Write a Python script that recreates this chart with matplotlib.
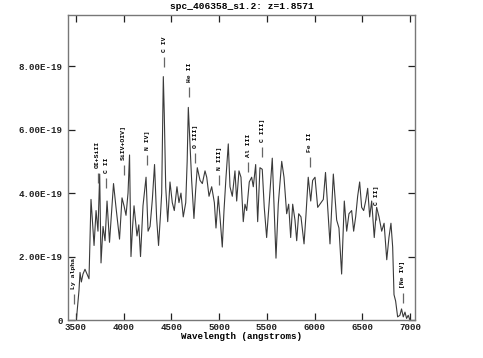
import matplotlib
matplotlib.use("Agg")
import matplotlib.pyplot as plt
from matplotlib.ticker import FuncFormatter

# ---- data ----
title = "spc_406358_s1.2: z=1.8571"
redshift = 1.8571
wavelength = [3505, 3531, 3542, 3556, 3573, 3594, 3615, 3636, 3657, 3689, 3710, 3730, 3748, 3762,
              3783, 3804, 3825, 3851, 3870, 3893, 3919, 3956, 3982, 4003, 4024, 4045, 4061, 4076,
              4092, 4108, 4139, 4158, 4176, 4202, 4234, 4255, 4276, 4300, 4323, 4345, 4365, 4385,
              4398, 4415, 4425, 4440, 4461, 4485, 4509, 4530, 4558, 4579, 4600, 4624, 4650, 4665,
              4677, 4688, 4712, 4736, 4754, 4771, 4800, 4824, 4852, 4870, 4894, 4922, 4950, 4967,
              4991, 5009, 5033, 5051, 5072, 5096, 5114, 5138, 5166, 5184, 5208, 5229, 5253, 5271,
              5289, 5316, 5341, 5358, 5383, 5404, 5428, 5452, 5473, 5498, 5526, 5557, 5578, 5596,
              5620, 5656, 5680, 5708, 5729, 5750, 5771, 5795, 5813, 5834, 5858, 5890, 5910, 5934,
              5960, 5980, 6005, 6033, 6057, 6092, 6115, 6138, 6162, 6197, 6232, 6256, 6284, 6312,
              6337, 6361, 6389, 6410, 6431, 6452, 6473, 6494, 6515, 6536, 6557, 6578, 6599, 6626,
              6651, 6676, 6704, 6729, 6757, 6780, 6801, 6819, 6833, 6850, 6871, 6895, 6912, 6930,
              6948, 6965, 6982, 7000]
flux_e19 = [0.05, 0.93, 1.5, 1.2, 1.45, 1.6, 1.45, 1.3, 3.8, 2.35, 3.45, 2.8, 4.6, 1.8,
            2.95, 2.5, 3.75, 2.45, 3.3, 4.3, 3.55, 2.55, 3.85, 3.6, 3.3, 4.0, 5.2, 2.0,
            2.9, 3.6, 2.65, 3.0, 2.0, 3.6, 4.5, 2.8, 2.95, 3.8, 4.9, 3.2, 2.35, 3.3,
            4.0, 7.67, 6.5, 4.2, 3.1, 4.35, 3.7, 3.45, 4.2, 3.7, 4.0, 3.25, 3.7, 5.0,
            6.7, 6.0, 4.4, 3.2, 4.1, 4.8, 4.4, 4.3, 4.7, 4.5, 3.9, 4.2, 3.7, 2.9,
            3.9, 3.25, 2.3, 3.45, 4.5, 5.55, 4.2, 3.9, 4.7, 3.75, 4.7, 4.5, 3.1, 3.65,
            3.45, 4.35, 4.5, 4.2, 4.9, 3.1, 4.8, 4.75, 3.55, 2.6, 3.75, 5.1, 3.45, 1.95,
            3.65, 5.0, 4.5, 3.35, 3.65, 2.6, 3.65, 3.15, 2.5, 3.35, 3.25, 2.4, 3.3, 4.5,
            3.75, 4.4, 4.5, 3.55, 3.65, 3.8, 4.65, 3.55, 2.4, 4.6, 3.15, 2.9, 1.45, 3.75,
            2.8, 3.35, 3.45, 2.8, 3.25, 3.9, 4.35, 3.55, 3.45, 3.75, 4.15, 3.25, 3.75, 2.6,
            3.55, 3.25, 2.8, 3.05, 1.9, 2.6, 3.05, 2.3, 0.8, 0.6, 0.1, 0.15, 0.35, 0.1,
            0.25, 0.05, 0.15, 0.0]

line_names = ["Ly alpha", "OI+SiII", "C II", "SiIV+OIV]", "N IV]", "C IV", "He II", "O III]",
              "N III]", "Al III", "C III]", "Fe II", "C II]", "[Ne IV]"]
line_rest = [1216, 1304, 1335, 1400, 1486, 1549, 1640, 1663, 1750, 1857, 1909, 2083, 2326, 2424]

xticks = [3500, 4000, 4500, 5000, 5500, 6000, 6500, 7000]
yticks_e19 = [0, 2, 4, 6, 8]

# ---- layout (label heights, in 1e-19 units) ----
label_base = [0.99, 4.78, 4.62, 5.03, 5.35, 8.45, 7.50, 5.41, 4.72, 5.13, 5.60, 5.29, 3.61, 1.02]

plt.rcParams['font.family'] = ['Liberation Mono', 'DejaVu Sans Mono']
plt.rcParams['font.weight'] = 'bold'

fig = plt.figure(figsize=(4.83, 3.58), dpi=100)
ax = fig.add_axes([0.1414, 0.106, 0.7176, 0.852])

scale = 1e-19
ax.plot(wavelength, [f * scale for f in flux_e19], color='#3a3a3a', lw=0.8)

ax.set_xlim(3419, 7052)
ax.set_ylim(0, 9.61e-19)

px = 9.61e-19 / 305.0  # data units per pixel in y
for name, rest, base in zip(line_names, line_rest, label_base):
    xo = rest * (1 + redshift)
    yb = base * scale
    ax.text(xo, yb, name, rotation=90, ha='center', va='bottom', fontsize=4.6,
            fontweight='bold', color='black')
    ax.vlines(xo, yb - 15 * px, yb - 5 * px, color='#666666', lw=0.9)

ax.set_xticks(xticks)
ax.set_yticks([v * scale for v in yticks_e19])


def yfmt(v, pos):
    if abs(v) < 1e-25:
        return "0"
    return f"{v:.2E}"


ax.yaxis.set_major_formatter(FuncFormatter(yfmt))
ax.tick_params(axis='both', which='major', direction='in', length=5, width=0.9,
               top=True, right=True, labelsize=6.6, colors='#222222')
ax.tick_params(axis='x', pad=2)
ax.tick_params(axis='y', pad=4)
for lab in ax.get_xticklabels() + ax.get_yticklabels():
    lab.set_fontweight('bold')

for s in ax.spines.values():
    s.set_color('#777777')
    s.set_linewidth(1.0)

ax.set_xlabel("Wavelength (angstroms)", fontsize=6.6, fontweight='bold', labelpad=0)
ax.set_title(title, fontsize=6.8, fontweight='bold', pad=4)

fig.savefig("out.png", dpi=100)
